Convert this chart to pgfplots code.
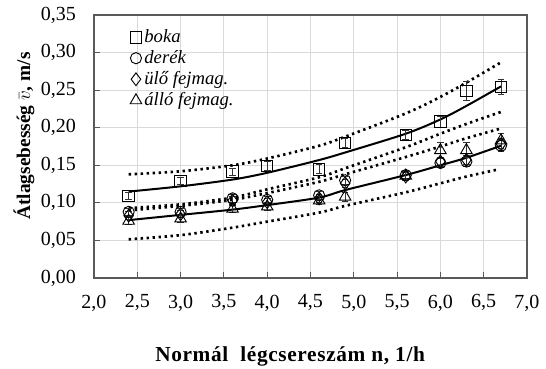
\documentclass[border=0pt]{standalone}
\usepackage{fontspec}
\setmainfont{Liberation Serif}
\usepackage{pgfplots}
\usepackage{pgfplotstable}
\pgfplotsset{compat=1.18}

\pgfplotstableread{
x y e
2.4 0.109 0.005
3.0 0.129 0.005
3.6 0.1415 0.005
4.0 0.149 0.006
4.6 0.1446 0.006
4.9 0.180 0.006
5.6 0.190 0.006
6.0 0.208 0.007
6.3 0.249 0.012
6.7 0.254 0.010
}\boka
\pgfplotstableread{
x y e
2.4 0.088 0.005
3.0 0.088 0.005
3.6 0.106 0.005
4.0 0.104 0.005
4.6 0.110 0.005
4.9 0.130 0.005
5.6 0.137 0.005
6.0 0.153 0.006
6.3 0.155 0.006
6.7 0.176 0.008
}\derek
\pgfplotstableread{
x y e
2.4 0.083 0.005
3.0 0.085 0.005
3.6 0.103 0.005
4.0 0.101 0.005
4.6 0.106 0.005
4.9 0.126 0.005
5.6 0.135 0.005
6.0 0.155 0.006
6.3 0.157 0.006
6.7 0.178 0.008
}\ulo
\pgfplotstableread{
x y e
2.4 0.076 0.005
3.0 0.079 0.005
3.6 0.092 0.005
4.0 0.095 0.005
4.6 0.103 0.005
4.9 0.108 0.006
5.6 0.136 0.006
6.0 0.170 0.010
6.3 0.170 0.010
6.7 0.183 0.010
}\allo

\begin{document}
\begin{tikzpicture}
\begin{axis}[
  scale only axis, width=324.75pt, height=197.25pt,
  xmin=2, xmax=7, ymin=0, ymax=0.35,
  xtick={2,2.5,3,3.5,4,4.5,5,5.5,6,6.5,7},
  ytick={0,0.05,0.1,0.15,0.2,0.25,0.3,0.35},
  /pgf/number format/assume math mode=true,
  xticklabel={\fontsize{15}{17}\selectfont\pgfmathprintnumber[fixed, fixed zerofill, precision=1, use comma, assume math mode=true]{\tick}},
  yticklabel={\fontsize{15}{17}\selectfont\pgfmathprintnumber[fixed, fixed zerofill, precision=2, use comma, assume math mode=true]{\tick}},
  xticklabel style={yshift=-9pt},
  yticklabel style={xshift=-10pt},
  tick align=inside, xtick pos=bottom, ytick pos=left,
  major tick length=4.5pt,
  tick style={black!65, line width=0.8pt},
  axis line style={black!65, line width=1pt},
  grid=major, major grid style={black!15, line width=0.6pt},
  xlabel={Normál\ \ légcsereszám n, 1/h},
  ylabel={Átlagsebesség $\bar{v}$, m/s},
  xlabel style={font=\bfseries\fontsize{16}{18}\selectfont\addfontfeatures{LetterSpace=3},
     at={(axis description cs:0.453,0)}, anchor=base, yshift=-63pt},
  ylabel style={font=\bfseries\fontsize{14.5}{16}\selectfont,
     at={(axis description cs:-0.162,0.54)}, anchor=center},
  legend style={at={(axis description cs:0.083,0.955)}, anchor=north west, draw=none, fill=none,
    font=\itshape\fontsize{14}{15}\selectfont, row sep=0.5pt, inner sep=0pt},
  legend cell align=left,
  legend image code/.code={\draw[#1, only marks] plot coordinates {(0.15cm,0cm)};},
  clip=false,
]
% fitted curves and bands
\addplot[black, line width=1.5pt, smooth, forget plot] coordinates {
(2.4,0.115)(3.0,0.122)(3.6,0.131)(4.0,0.140)(4.6,0.157)(4.9,0.167)(5.6,0.192)(6.0,0.211)(6.3,0.229)(6.7,0.255)};
\addplot[black, line width=2pt, dash pattern=on 1.8pt off 2.7pt, smooth, forget plot] coordinates {
(2.4,0.138)(3.0,0.142)(3.6,0.150)(4.0,0.159)(4.6,0.176)(4.9,0.188)(5.6,0.219)(6.0,0.241)(6.3,0.260)(6.7,0.287)};
\addplot[black, line width=2pt, dash pattern=on 1.8pt off 2.7pt, smooth, forget plot] coordinates {
(2.4,0.093)(3.0,0.098)(3.6,0.107)(4.0,0.118)(4.6,0.134)(4.9,0.146)(5.6,0.174)(6.0,0.192)(6.3,0.205)(6.7,0.221)};
\addplot[black, line width=2pt, dash pattern=on 1.8pt off 2.7pt, smooth, forget plot] coordinates {
(2.4,0.090)(3.0,0.096)(3.6,0.104)(4.0,0.113)(4.6,0.128)(4.9,0.138)(5.6,0.161)(6.0,0.175)(6.3,0.186)(6.7,0.199)};
\addplot[black, line width=1.5pt, smooth, forget plot] coordinates {
(2.4,0.077)(3.0,0.084)(3.6,0.091)(4.0,0.097)(4.6,0.107)(4.9,0.117)(5.6,0.137)(6.0,0.150)(6.3,0.160)(6.7,0.176)};
\addplot[black, line width=2pt, dash pattern=on 1.8pt off 2.7pt, smooth, forget plot] coordinates {
(2.4,0.0515)(3.0,0.057)(3.6,0.067)(4.0,0.075)(4.6,0.087)(4.9,0.096)(5.6,0.114)(6.0,0.126)(6.3,0.135)(6.65,0.144)};
% data
\addplot[black, only marks, mark=square, mark size=4.3pt, mark options={line width=0.7pt},
  error bars/.cd, y dir=both, y explicit, error bar style={line width=0.6pt, black!80},
  error mark options={rotate=90, mark size=2.5pt, line width=0.6pt}]
  table[x=x, y=y, y error=e] {\boka};
\addplot[black, only marks, mark=o, mark size=4.2pt, mark options={line width=0.7pt},
  error bars/.cd, y dir=both, y explicit, error bar style={line width=0.6pt, black!80},
  error mark options={rotate=90, mark size=2.5pt, line width=0.6pt}]
  table[x=x, y=y, y error=e] {\derek};
\addplot[black, only marks, mark=diamond, mark size=4.8pt, mark options={line width=0.7pt},
  error bars/.cd, y dir=both, y explicit, error bar style={line width=0.6pt, black!80},
  error mark options={rotate=90, mark size=2.5pt, line width=0.6pt}]
  table[x=x, y=y, y error=e] {\ulo};
\addplot[black, only marks, mark=triangle, mark size=5pt, mark options={line width=0.7pt},
  error bars/.cd, y dir=both, y explicit, error bar style={line width=0.6pt, black!80},
  error mark options={rotate=90, mark size=2.5pt, line width=0.6pt}]
  table[x=x, y=y, y error=e] {\allo};
\legend{boka, derék, ülő fejmag., álló fejmag.}
\end{axis}
\pgfresetboundingbox
\path[use as bounding box] ([xshift=-70.5pt,yshift=-68.25pt]current axis.south west) rectangle ([xshift=14.25pt,yshift=11.25pt]current axis.north east);
\end{tikzpicture}
\end{document}
